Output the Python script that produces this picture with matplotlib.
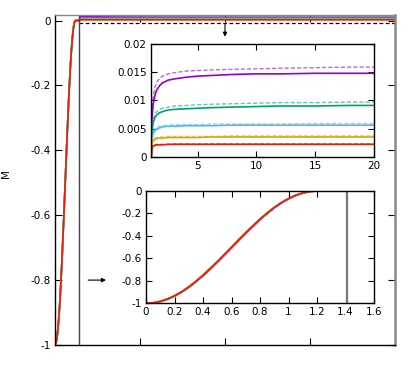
import numpy as np
import matplotlib
matplotlib.use("Agg")
import matplotlib.pyplot as plt

# ---- data ----
# magnetisation profile (bottom inset), x in [0, 1.6]
profile_x = [0.0, 0.05, 0.1, 0.15, 0.2, 0.25, 0.3, 0.35, 0.4, 0.45, 0.5, 0.55, 0.6,
             0.65, 0.7, 0.75, 0.8, 0.85, 0.9, 0.95, 1.0, 1.05, 1.1, 1.15, 1.2,
             1.25, 1.3, 1.35, 1.4, 1.45, 1.5, 1.55, 1.6]
profile_M = [-1.0, -0.996, -0.983, -0.962, -0.933, -0.897, -0.854, -0.804, -0.75,
             -0.69, -0.629, -0.565, -0.5, -0.435, -0.371, -0.31, -0.25, -0.196,
             -0.146, -0.103, -0.067, -0.038, -0.017, -0.004, 0.0, 0.0, 0.0, 0.0,
             0.0, 0.0, 0.0, 0.0, 0.0]

# tails (top inset), x in [1, 20]
tail_x = [1.05, 1.1, 1.2, 1.35, 1.5, 1.75, 2.0, 2.5, 3.0, 4.0, 5.0, 6.0, 8.0,
          10.0, 12.0, 15.0, 18.0, 20.0]
purple_solid = [0.0, 0.0065, 0.0092, 0.0108, 0.0118, 0.0126, 0.0131, 0.0136, 0.0138,
                0.0141, 0.0143, 0.0144, 0.0146, 0.0147, 0.0147, 0.0148, 0.0148, 0.0148]
purple_dash = [0.0, 0.0072, 0.0104, 0.0123, 0.0132, 0.0139, 0.0143, 0.0147, 0.0149,
               0.0152, 0.0153, 0.0154, 0.0155, 0.0156, 0.0157, 0.0158, 0.0159, 0.0159]
green_solid = [0.0, 0.0040, 0.0060, 0.0069, 0.0074, 0.0078, 0.0080, 0.0083, 0.0084,
               0.0085, 0.0086, 0.0087, 0.0088, 0.0089, 0.0090, 0.0090, 0.0091, 0.0091]
green_dash = [0.0, 0.0044, 0.0065, 0.0075, 0.0080, 0.0084, 0.0086, 0.0088, 0.0090,
              0.0091, 0.0092, 0.0093, 0.0094, 0.0095, 0.0096, 0.0096, 0.0097, 0.0097]
blue_solid = [0.0, 0.0030, 0.0040, 0.0046, 0.0049, 0.0051, 0.0053, 0.0054, 0.0054,
              0.0055, 0.0055, 0.0055, 0.0056, 0.0056, 0.0056, 0.0056, 0.0056, 0.0056]
blue_dash = [0.0, 0.0032, 0.0043, 0.0049, 0.0052, 0.0054, 0.0055, 0.0056, 0.0057,
             0.0057, 0.0057, 0.0058, 0.0058, 0.0058, 0.0058, 0.0059, 0.0059, 0.0059]
orange_solid = [0.0, 0.0022, 0.0028, 0.0031, 0.0032, 0.0033, 0.0033, 0.0034, 0.0034,
                0.0034, 0.0034, 0.0035, 0.0035, 0.0035, 0.0035, 0.0035, 0.0035, 0.0035]
orange_dash = [0.0, 0.0024, 0.0030, 0.0033, 0.0034, 0.0035, 0.0035, 0.0036, 0.0036,
               0.0036, 0.0036, 0.0036, 0.0037, 0.0037, 0.0037, 0.0037, 0.0037, 0.0037]
red_solid = [0.0, 0.0015, 0.0019, 0.0020, 0.0021, 0.0021, 0.0021, 0.0022, 0.0022,
             0.0022, 0.0022, 0.0022, 0.0022, 0.0022, 0.0022, 0.0022, 0.0022, 0.0022]
red_dash = [0.0, 0.0016, 0.0020, 0.0021, 0.0022, 0.0022, 0.0022, 0.0022, 0.0023,
            0.0023, 0.0023, 0.0023, 0.0023, 0.0023, 0.0023, 0.0023, 0.0023, 0.0023]

front_x = 1.41
ref_level = -0.008

main_yticks = [0, -0.2, -0.4, -0.6, -0.8, -1]
main_yticklabels = ["0", "-0.2", "-0.4", "-0.6", "-0.8", "-1"]
main_xticks = [5, 10, 15]
top_yticks = [0, 0.005, 0.01, 0.015, 0.02]
top_yticklabels = ["0", "0.005", "0.01", "0.015", "0.02"]
top_xticks = [5, 10, 15, 20]
bot_xticks = [0, 0.2, 0.4, 0.6, 0.8, 1.0, 1.2, 1.4, 1.6]
bot_xticklabels = ["0", "0.2", "0.4", "0.6", "0.8", "1", "1.2", "1.4", "1.6"]
bot_yticks = [0, -0.2, -0.4, -0.6, -0.8, -1]
bot_yticklabels = ["0", "-0.2", "-0.4", "-0.6", "-0.8", "-1"]

colors = ["#9400d3", "#009e73", "#56b4e9", "#e69f00", "#e51e10"]
solids = [purple_solid, green_solid, blue_solid, orange_solid, red_solid]
dashes = [purple_dash, green_dash, blue_dash, orange_dash, red_dash]

plt.rcParams['font.family'] = ['DejaVu Sans']
FS = 7.5

fig = plt.figure(figsize=(4.15, 3.74), dpi=100)

def style(ax, lw=1.0):
    ax.tick_params(direction='in', length=4, width=0.8, top=True, right=True,
                   labelsize=FS, pad=3)
    for s in ax.spines.values():
        s.set_linewidth(lw)

# ---- main axes ----
ax = fig.add_axes([55/415, 1-345/374, 340/415, 330/374])
px = np.array(profile_x)
pm = np.array(profile_M)
mask = px <= 1.4
for c, sol in zip(colors, solids):
    xs = list(px[mask]) + tail_x[4:]
    ys = list(pm[mask]) + sol[4:]
    ax.plot(xs, ys, color=c, lw=1.2)
ax.plot([front_x, 20], [ref_level, ref_level], color='black', lw=0.9,
        linestyle=(0, (3, 2)))
ax.axvline(front_x, color='#444444', lw=1.0)
ax.set_xlim(0, 20)
ax.set_ylim(-1, 0.017)
ax.set_xticks(main_xticks)
ax.set_xticklabels([])
ax.set_yticks(main_yticks)
ax.set_yticklabels(main_yticklabels)
style(ax)
ax.tick_params(length=5)
ax.spines['top'].set_color('#888888')
ax.spines['right'].set_color('#888888')
ax.spines['right'].set_linewidth(1.8)
ax.set_ylabel("M", fontsize=FS)
ax.yaxis.set_label_coords(-0.13, 0.52)
ax.annotate("", xy=(10, -0.05), xytext=(10, -0.012),
            arrowprops=dict(arrowstyle='-|>', color='black', lw=0.8,
                            mutation_scale=6, shrinkA=0, shrinkB=0))
ax.annotate("", xy=(3.0, -0.80), xytext=(1.95, -0.80),
            arrowprops=dict(arrowstyle='-|>', color='black', lw=0.8,
                            mutation_scale=6, shrinkA=0, shrinkB=0))

# ---- top inset ----
ax1 = fig.add_axes([150.7/415, 1-156.7/374, 223.3/415, 112.7/374])
for c, sol, dsh in zip(colors, solids, dashes):
    ax1.plot(tail_x, dsh, color=c, lw=1.0, alpha=0.6, linestyle=(0, (3, 1.5)))
    ax1.plot(tail_x, sol, color=c, lw=1.2)
ax1.set_xlim(1.0, 20)
ax1.set_ylim(0, 0.02)
ax1.set_xticks(top_xticks)
ax1.set_yticks(top_yticks)
ax1.set_yticklabels(top_yticklabels)
style(ax1)

# ---- bottom inset ----
ax2 = fig.add_axes([146/415, 1-303.3/374, 228/415, 112.3/374])
offs = [0.006, 0.004, 0.002, -0.002, 0.0]
for c, o in zip(colors, offs):
    ax2.plot(px + o, pm, color=c, lw=1.2)
ax2.axvline(front_x, color='#777777', lw=1.6)
ax2.set_xlim(0, 1.6)
ax2.set_ylim(-1, 0)
ax2.set_xticks(bot_xticks)
ax2.set_xticklabels(bot_xticklabels)
ax2.set_yticks(bot_yticks)
ax2.set_yticklabels(bot_yticklabels)
style(ax2)

fig.savefig("out.png", dpi=100)
